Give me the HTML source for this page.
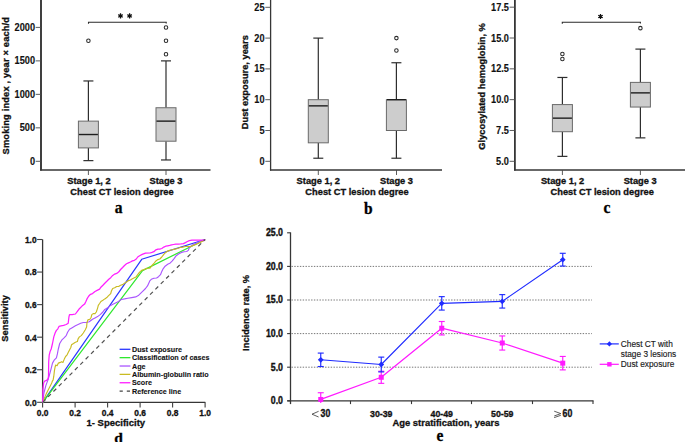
<!DOCTYPE html>
<html><head><meta charset="utf-8"><title>Figure</title>
<style>html,body{margin:0;padding:0;background:#fff;width:685px;height:442px;overflow:hidden}svg{display:block}</style>
</head><body>
<svg width="685" height="442" viewBox="0 0 685 442">
<rect width="685" height="442" fill="#fff"/>
<line x1="41.00" y1="0.00" x2="41.00" y2="170.60" stroke="#363636" stroke-width="1.9" />
<line x1="40.05" y1="169.90" x2="210.50" y2="169.90" stroke="#363636" stroke-width="1.5" />
<line x1="35.70" y1="161.30" x2="41.00" y2="161.30" stroke="#4a4a4a" stroke-width="0.9" />
<text transform="translate(35.00,164.85) scale(1,1.1)" font-size="9.2" text-anchor="end" font-weight="bold" font-family='"Liberation Sans", sans-serif' fill="#111" stroke="#111" stroke-width="0.12" >0</text>
<line x1="35.70" y1="127.83" x2="41.00" y2="127.83" stroke="#4a4a4a" stroke-width="0.9" />
<text transform="translate(35.00,131.38) scale(1,1.1)" font-size="9.2" text-anchor="end" font-weight="bold" font-family='"Liberation Sans", sans-serif' fill="#111" stroke="#111" stroke-width="0.12" >500</text>
<line x1="35.70" y1="94.35" x2="41.00" y2="94.35" stroke="#4a4a4a" stroke-width="0.9" />
<text transform="translate(35.00,97.90) scale(1,1.1)" font-size="9.2" text-anchor="end" font-weight="bold" font-family='"Liberation Sans", sans-serif' fill="#111" stroke="#111" stroke-width="0.12" >1000</text>
<line x1="35.70" y1="60.88" x2="41.00" y2="60.88" stroke="#4a4a4a" stroke-width="0.9" />
<text transform="translate(35.00,64.43) scale(1,1.1)" font-size="9.2" text-anchor="end" font-weight="bold" font-family='"Liberation Sans", sans-serif' fill="#111" stroke="#111" stroke-width="0.12" >1500</text>
<line x1="35.70" y1="27.40" x2="41.00" y2="27.40" stroke="#4a4a4a" stroke-width="0.9" />
<text transform="translate(35.00,30.95) scale(1,1.1)" font-size="9.2" text-anchor="end" font-weight="bold" font-family='"Liberation Sans", sans-serif' fill="#111" stroke="#111" stroke-width="0.12" >2000</text>
<line x1="88.40" y1="170.00" x2="88.40" y2="175.00" stroke="#4a4a4a" stroke-width="0.9" />
<line x1="166.00" y1="170.00" x2="166.00" y2="175.00" stroke="#4a4a4a" stroke-width="0.9" />
<text transform="translate(6.10,85.70) rotate(-90)" x="0" y="0" font-size="9.3" text-anchor="middle" dominant-baseline="central" font-weight="bold" font-family='"Liberation Sans", sans-serif' fill="#111" stroke="#111" stroke-width="0.3" textLength="137.5" lengthAdjust="spacing">Smoking index , year × each/d</text>
<text x="89.00" y="184.40" font-size="9.3" text-anchor="middle" font-weight="bold" font-family='"Liberation Sans", sans-serif' fill="#111" stroke="#111" stroke-width="0.3" >Stage 1, 2</text>
<text x="166.00" y="184.40" font-size="9.3" text-anchor="middle" font-weight="bold" font-family='"Liberation Sans", sans-serif' fill="#111" stroke="#111" stroke-width="0.3" >Stage 3</text>
<text x="122.00" y="195.30" font-size="9.3" text-anchor="middle" font-weight="bold" font-family='"Liberation Sans", sans-serif' fill="#111" stroke="#111" stroke-width="0.3" >Chest CT lesion degree</text>
<text transform="translate(118.70,213.30) scale(1,1.08)" font-size="15.5" text-anchor="middle" font-weight="bold" font-family='"Liberation Serif", serif' fill="#000" stroke="#000" stroke-width="0.3" >a</text>
<line x1="88.40" y1="80.96" x2="88.40" y2="121.13" stroke="#2e2e2e" stroke-width="1.2" />
<line x1="88.40" y1="147.91" x2="88.40" y2="160.63" stroke="#2e2e2e" stroke-width="1.2" />
<line x1="83.40" y1="80.96" x2="93.40" y2="80.96" stroke="#2e2e2e" stroke-width="1.2" />
<line x1="83.40" y1="160.63" x2="93.40" y2="160.63" stroke="#2e2e2e" stroke-width="1.2" />
<rect x="78.40" y="121.13" width="20" height="26.78" fill="#cdcdcd" stroke="#6a6a6a" stroke-width="1"/>
<line x1="78.90" y1="134.52" x2="97.90" y2="134.52" stroke="#1e1e1e" stroke-width="1.4" />
<circle cx="88.40" cy="40.79" r="1.75" fill="#fff" stroke="#2a2a2a" stroke-width="1.05"/>
<line x1="166.00" y1="60.88" x2="166.00" y2="107.74" stroke="#2e2e2e" stroke-width="1.2" />
<line x1="166.00" y1="141.22" x2="166.00" y2="159.96" stroke="#2e2e2e" stroke-width="1.2" />
<line x1="161.00" y1="60.88" x2="171.00" y2="60.88" stroke="#2e2e2e" stroke-width="1.2" />
<line x1="161.00" y1="159.96" x2="171.00" y2="159.96" stroke="#2e2e2e" stroke-width="1.2" />
<rect x="156.00" y="107.74" width="20" height="33.47" fill="#cdcdcd" stroke="#6a6a6a" stroke-width="1"/>
<line x1="156.50" y1="121.13" x2="175.50" y2="121.13" stroke="#1e1e1e" stroke-width="1.4" />
<circle cx="166.00" cy="54.18" r="1.75" fill="#fff" stroke="#2a2a2a" stroke-width="1.05"/>
<circle cx="166.00" cy="40.79" r="1.75" fill="#fff" stroke="#2a2a2a" stroke-width="1.05"/>
<circle cx="166.00" cy="27.40" r="1.75" fill="#fff" stroke="#2a2a2a" stroke-width="1.05"/>
<path d="M88.5 23.8 V22.3 H166.2 V23.6" fill="none" stroke="#2a2a2a" stroke-width="1.1"/>
<path d="M120.50 13.30 L120.50 18.50 M118.25 14.60 L122.75 17.20 M118.25 17.20 L122.75 14.60 " stroke="#111" stroke-width="1.25" fill="none"/>
<circle cx="120.50" cy="15.90" r="1.2" fill="#111"/>
<path d="M129.60 13.30 L129.60 18.50 M127.35 14.60 L131.85 17.20 M127.35 17.20 L131.85 14.60 " stroke="#111" stroke-width="1.25" fill="none"/>
<circle cx="129.60" cy="15.90" r="1.2" fill="#111"/>
<line x1="270.60" y1="0.00" x2="270.60" y2="170.60" stroke="#363636" stroke-width="1.3" />
<line x1="269.95" y1="169.90" x2="442.00" y2="169.90" stroke="#363636" stroke-width="1.5" />
<line x1="265.30" y1="161.30" x2="270.60" y2="161.30" stroke="#4a4a4a" stroke-width="0.9" />
<text transform="translate(264.60,164.85) scale(1,1.1)" font-size="9.2" text-anchor="end" font-weight="bold" font-family='"Liberation Sans", sans-serif' fill="#111" stroke="#111" stroke-width="0.12" >0</text>
<line x1="265.30" y1="130.50" x2="270.60" y2="130.50" stroke="#4a4a4a" stroke-width="0.9" />
<text transform="translate(264.60,134.05) scale(1,1.1)" font-size="9.2" text-anchor="end" font-weight="bold" font-family='"Liberation Sans", sans-serif' fill="#111" stroke="#111" stroke-width="0.12" >5</text>
<line x1="265.30" y1="99.70" x2="270.60" y2="99.70" stroke="#4a4a4a" stroke-width="0.9" />
<text transform="translate(264.60,103.25) scale(1,1.1)" font-size="9.2" text-anchor="end" font-weight="bold" font-family='"Liberation Sans", sans-serif' fill="#111" stroke="#111" stroke-width="0.12" >10</text>
<line x1="265.30" y1="68.90" x2="270.60" y2="68.90" stroke="#4a4a4a" stroke-width="0.9" />
<text transform="translate(264.60,72.45) scale(1,1.1)" font-size="9.2" text-anchor="end" font-weight="bold" font-family='"Liberation Sans", sans-serif' fill="#111" stroke="#111" stroke-width="0.12" >15</text>
<line x1="265.30" y1="38.10" x2="270.60" y2="38.10" stroke="#4a4a4a" stroke-width="0.9" />
<text transform="translate(264.60,41.65) scale(1,1.1)" font-size="9.2" text-anchor="end" font-weight="bold" font-family='"Liberation Sans", sans-serif' fill="#111" stroke="#111" stroke-width="0.12" >20</text>
<line x1="265.30" y1="7.30" x2="270.60" y2="7.30" stroke="#4a4a4a" stroke-width="0.9" />
<text transform="translate(264.60,10.85) scale(1,1.1)" font-size="9.2" text-anchor="end" font-weight="bold" font-family='"Liberation Sans", sans-serif' fill="#111" stroke="#111" stroke-width="0.12" >25</text>
<line x1="318.30" y1="170.00" x2="318.30" y2="175.00" stroke="#4a4a4a" stroke-width="0.9" />
<line x1="396.50" y1="170.00" x2="396.50" y2="175.00" stroke="#4a4a4a" stroke-width="0.9" />
<text transform="translate(244.50,82.20) rotate(-90)" x="0" y="0" font-size="9.3" text-anchor="middle" dominant-baseline="central" font-weight="bold" font-family='"Liberation Sans", sans-serif' fill="#111" stroke="#111" stroke-width="0.3" >Dust exposure, years</text>
<text x="318.30" y="184.40" font-size="9.3" text-anchor="middle" font-weight="bold" font-family='"Liberation Sans", sans-serif' fill="#111" stroke="#111" stroke-width="0.3" >Stage 1, 2</text>
<text x="396.50" y="184.40" font-size="9.3" text-anchor="middle" font-weight="bold" font-family='"Liberation Sans", sans-serif' fill="#111" stroke="#111" stroke-width="0.3" >Stage 3</text>
<text x="357.00" y="195.30" font-size="9.3" text-anchor="middle" font-weight="bold" font-family='"Liberation Sans", sans-serif' fill="#111" stroke="#111" stroke-width="0.3" >Chest CT lesion degree</text>
<text transform="translate(368.20,213.90) scale(1,1.03)" font-size="15.5" text-anchor="middle" font-weight="bold" font-family='"Liberation Serif", serif' fill="#000" stroke="#000" stroke-width="0.3" >b</text>
<line x1="318.30" y1="38.10" x2="318.30" y2="99.70" stroke="#2e2e2e" stroke-width="1.2" />
<line x1="318.30" y1="142.82" x2="318.30" y2="158.22" stroke="#2e2e2e" stroke-width="1.2" />
<line x1="313.30" y1="38.10" x2="323.30" y2="38.10" stroke="#2e2e2e" stroke-width="1.2" />
<line x1="313.30" y1="158.22" x2="323.30" y2="158.22" stroke="#2e2e2e" stroke-width="1.2" />
<rect x="308.30" y="99.70" width="20" height="43.12" fill="#cdcdcd" stroke="#6a6a6a" stroke-width="1"/>
<line x1="308.80" y1="105.86" x2="327.80" y2="105.86" stroke="#1e1e1e" stroke-width="1.4" />
<line x1="396.40" y1="62.74" x2="396.40" y2="99.70" stroke="#2e2e2e" stroke-width="1.2" />
<line x1="396.40" y1="130.50" x2="396.40" y2="158.22" stroke="#2e2e2e" stroke-width="1.2" />
<line x1="391.40" y1="62.74" x2="401.40" y2="62.74" stroke="#2e2e2e" stroke-width="1.2" />
<line x1="391.40" y1="158.22" x2="401.40" y2="158.22" stroke="#2e2e2e" stroke-width="1.2" />
<rect x="386.40" y="99.70" width="20" height="30.80" fill="#cdcdcd" stroke="#6a6a6a" stroke-width="1"/>
<line x1="386.90" y1="99.70" x2="405.90" y2="99.70" stroke="#1e1e1e" stroke-width="1.4" />
<circle cx="396.40" cy="50.42" r="1.75" fill="#fff" stroke="#2a2a2a" stroke-width="1.05"/>
<circle cx="396.40" cy="38.10" r="1.75" fill="#fff" stroke="#2a2a2a" stroke-width="1.05"/>
<line x1="514.90" y1="0.00" x2="514.90" y2="170.60" stroke="#363636" stroke-width="1.8" />
<line x1="514.00" y1="169.90" x2="685.00" y2="169.90" stroke="#363636" stroke-width="1.5" />
<line x1="509.60" y1="161.30" x2="514.90" y2="161.30" stroke="#4a4a4a" stroke-width="0.9" />
<text transform="translate(508.90,164.85) scale(1,1.1)" font-size="9.2" text-anchor="end" font-weight="bold" font-family='"Liberation Sans", sans-serif' fill="#111" stroke="#111" stroke-width="0.12" >5.0</text>
<line x1="509.60" y1="130.48" x2="514.90" y2="130.48" stroke="#4a4a4a" stroke-width="0.9" />
<text transform="translate(508.90,134.03) scale(1,1.1)" font-size="9.2" text-anchor="end" font-weight="bold" font-family='"Liberation Sans", sans-serif' fill="#111" stroke="#111" stroke-width="0.12" >7.5</text>
<line x1="509.60" y1="99.65" x2="514.90" y2="99.65" stroke="#4a4a4a" stroke-width="0.9" />
<text transform="translate(508.90,103.20) scale(1,1.1)" font-size="9.2" text-anchor="end" font-weight="bold" font-family='"Liberation Sans", sans-serif' fill="#111" stroke="#111" stroke-width="0.12" >10.0</text>
<line x1="509.60" y1="68.83" x2="514.90" y2="68.83" stroke="#4a4a4a" stroke-width="0.9" />
<text transform="translate(508.90,72.38) scale(1,1.1)" font-size="9.2" text-anchor="end" font-weight="bold" font-family='"Liberation Sans", sans-serif' fill="#111" stroke="#111" stroke-width="0.12" >12.5</text>
<line x1="509.60" y1="38.00" x2="514.90" y2="38.00" stroke="#4a4a4a" stroke-width="0.9" />
<text transform="translate(508.90,41.55) scale(1,1.1)" font-size="9.2" text-anchor="end" font-weight="bold" font-family='"Liberation Sans", sans-serif' fill="#111" stroke="#111" stroke-width="0.12" >15.0</text>
<line x1="509.60" y1="7.18" x2="514.90" y2="7.18" stroke="#4a4a4a" stroke-width="0.9" />
<text transform="translate(508.90,10.73) scale(1,1.1)" font-size="9.2" text-anchor="end" font-weight="bold" font-family='"Liberation Sans", sans-serif' fill="#111" stroke="#111" stroke-width="0.12" >17.5</text>
<line x1="562.40" y1="170.00" x2="562.40" y2="175.00" stroke="#4a4a4a" stroke-width="0.9" />
<line x1="640.40" y1="170.00" x2="640.40" y2="175.00" stroke="#4a4a4a" stroke-width="0.9" />
<text transform="translate(481.60,86.40) rotate(-90)" x="0" y="0" font-size="9.3" text-anchor="middle" dominant-baseline="central" font-weight="bold" font-family='"Liberation Sans", sans-serif' fill="#111" stroke="#111" stroke-width="0.3" >Glycosylated hemoglobin, %</text>
<text x="562.60" y="184.40" font-size="9.3" text-anchor="middle" font-weight="bold" font-family='"Liberation Sans", sans-serif' fill="#111" stroke="#111" stroke-width="0.3" >Stage 1, 2</text>
<text x="640.20" y="184.40" font-size="9.3" text-anchor="middle" font-weight="bold" font-family='"Liberation Sans", sans-serif' fill="#111" stroke="#111" stroke-width="0.3" >Stage 3</text>
<text x="602.20" y="195.30" font-size="9.3" text-anchor="middle" font-weight="bold" font-family='"Liberation Sans", sans-serif' fill="#111" stroke="#111" stroke-width="0.3" >Chest CT lesion degree</text>
<text transform="translate(607.00,213.30) scale(1,1.08)" font-size="15.5" text-anchor="middle" font-weight="bold" font-family='"Liberation Serif", serif' fill="#000" stroke="#000" stroke-width="0.3" >c</text>
<line x1="562.40" y1="77.46" x2="562.40" y2="104.58" stroke="#2e2e2e" stroke-width="1.2" />
<line x1="562.40" y1="131.71" x2="562.40" y2="156.37" stroke="#2e2e2e" stroke-width="1.2" />
<line x1="557.40" y1="77.46" x2="567.40" y2="77.46" stroke="#2e2e2e" stroke-width="1.2" />
<line x1="557.40" y1="156.37" x2="567.40" y2="156.37" stroke="#2e2e2e" stroke-width="1.2" />
<rect x="552.40" y="104.58" width="20" height="27.13" fill="#cdcdcd" stroke="#6a6a6a" stroke-width="1"/>
<line x1="552.90" y1="118.15" x2="571.90" y2="118.15" stroke="#1e1e1e" stroke-width="1.4" />
<circle cx="562.40" cy="58.96" r="1.75" fill="#fff" stroke="#2a2a2a" stroke-width="1.05"/>
<circle cx="562.40" cy="54.03" r="1.75" fill="#fff" stroke="#2a2a2a" stroke-width="1.05"/>
<line x1="640.40" y1="49.10" x2="640.40" y2="82.39" stroke="#2e2e2e" stroke-width="1.2" />
<line x1="640.40" y1="107.05" x2="640.40" y2="137.87" stroke="#2e2e2e" stroke-width="1.2" />
<line x1="635.40" y1="49.10" x2="645.40" y2="49.10" stroke="#2e2e2e" stroke-width="1.2" />
<line x1="635.40" y1="137.87" x2="645.40" y2="137.87" stroke="#2e2e2e" stroke-width="1.2" />
<rect x="630.40" y="82.39" width="20" height="24.66" fill="#cdcdcd" stroke="#6a6a6a" stroke-width="1"/>
<line x1="630.90" y1="92.87" x2="649.90" y2="92.87" stroke="#1e1e1e" stroke-width="1.4" />
<circle cx="640.40" cy="28.14" r="1.75" fill="#fff" stroke="#2a2a2a" stroke-width="1.05"/>
<path d="M562.3 23.8 V22.3 H640.4 V23.6" fill="none" stroke="#2a2a2a" stroke-width="1.1"/>
<path d="M600.50 13.90 L600.50 19.10 M598.25 15.20 L602.75 17.80 M598.25 17.80 L602.75 15.20 " stroke="#111" stroke-width="1.25" fill="none"/>
<circle cx="600.50" cy="16.50" r="1.2" fill="#111"/>
<line x1="42.60" y1="239.50" x2="42.60" y2="402.90" stroke="#363636" stroke-width="1.3" />
<line x1="42.00" y1="402.30" x2="205.30" y2="402.30" stroke="#363636" stroke-width="1.3" />
<line x1="37.10" y1="402.30" x2="42.60" y2="402.30" stroke="#404040" stroke-width="1.1" />
<text transform="translate(36.60,405.70) scale(1,1.1)" font-size="8.4" text-anchor="end" font-weight="bold" font-family='"Liberation Sans", sans-serif' fill="#111" stroke="#111" stroke-width="0.3" >0.0</text>
<line x1="42.60" y1="402.30" x2="42.60" y2="407.50" stroke="#404040" stroke-width="1.1" />
<text transform="translate(42.60,415.80) scale(1,1.08)" font-size="8.4" text-anchor="middle" font-weight="bold" font-family='"Liberation Sans", sans-serif' fill="#111" stroke="#111" stroke-width="0.3" >0.0</text>
<line x1="37.10" y1="369.74" x2="42.60" y2="369.74" stroke="#404040" stroke-width="1.1" />
<text transform="translate(36.60,373.14) scale(1,1.1)" font-size="8.4" text-anchor="end" font-weight="bold" font-family='"Liberation Sans", sans-serif' fill="#111" stroke="#111" stroke-width="0.3" >0.2</text>
<line x1="75.10" y1="402.30" x2="75.10" y2="407.50" stroke="#404040" stroke-width="1.1" />
<text transform="translate(75.10,415.80) scale(1,1.08)" font-size="8.4" text-anchor="middle" font-weight="bold" font-family='"Liberation Sans", sans-serif' fill="#111" stroke="#111" stroke-width="0.3" >0.2</text>
<line x1="37.10" y1="337.18" x2="42.60" y2="337.18" stroke="#404040" stroke-width="1.1" />
<text transform="translate(36.60,340.58) scale(1,1.1)" font-size="8.4" text-anchor="end" font-weight="bold" font-family='"Liberation Sans", sans-serif' fill="#111" stroke="#111" stroke-width="0.3" >0.4</text>
<line x1="107.60" y1="402.30" x2="107.60" y2="407.50" stroke="#404040" stroke-width="1.1" />
<text transform="translate(107.60,415.80) scale(1,1.08)" font-size="8.4" text-anchor="middle" font-weight="bold" font-family='"Liberation Sans", sans-serif' fill="#111" stroke="#111" stroke-width="0.3" >0.4</text>
<line x1="37.10" y1="304.62" x2="42.60" y2="304.62" stroke="#404040" stroke-width="1.1" />
<text transform="translate(36.60,308.02) scale(1,1.1)" font-size="8.4" text-anchor="end" font-weight="bold" font-family='"Liberation Sans", sans-serif' fill="#111" stroke="#111" stroke-width="0.3" >0.6</text>
<line x1="140.10" y1="402.30" x2="140.10" y2="407.50" stroke="#404040" stroke-width="1.1" />
<text transform="translate(140.10,415.80) scale(1,1.08)" font-size="8.4" text-anchor="middle" font-weight="bold" font-family='"Liberation Sans", sans-serif' fill="#111" stroke="#111" stroke-width="0.3" >0.6</text>
<line x1="37.10" y1="272.06" x2="42.60" y2="272.06" stroke="#404040" stroke-width="1.1" />
<text transform="translate(36.60,275.46) scale(1,1.1)" font-size="8.4" text-anchor="end" font-weight="bold" font-family='"Liberation Sans", sans-serif' fill="#111" stroke="#111" stroke-width="0.3" >0.8</text>
<line x1="172.60" y1="402.30" x2="172.60" y2="407.50" stroke="#404040" stroke-width="1.1" />
<text transform="translate(172.60,415.80) scale(1,1.08)" font-size="8.4" text-anchor="middle" font-weight="bold" font-family='"Liberation Sans", sans-serif' fill="#111" stroke="#111" stroke-width="0.3" >0.8</text>
<line x1="37.10" y1="239.50" x2="42.60" y2="239.50" stroke="#404040" stroke-width="1.1" />
<text transform="translate(36.60,242.90) scale(1,1.1)" font-size="8.4" text-anchor="end" font-weight="bold" font-family='"Liberation Sans", sans-serif' fill="#111" stroke="#111" stroke-width="0.3" >1.0</text>
<line x1="205.10" y1="402.30" x2="205.10" y2="407.50" stroke="#404040" stroke-width="1.1" />
<text transform="translate(205.10,415.80) scale(1,1.08)" font-size="8.4" text-anchor="middle" font-weight="bold" font-family='"Liberation Sans", sans-serif' fill="#111" stroke="#111" stroke-width="0.3" >1.0</text>
<text transform="translate(5.20,318.40) rotate(-90)" x="0" y="0" font-size="9.3" text-anchor="middle" dominant-baseline="central" font-weight="bold" font-family='"Liberation Sans", sans-serif' fill="#111" stroke="#111" stroke-width="0.3" >Sensitivity</text>
<text x="115.80" y="425.90" font-size="9.5" text-anchor="middle" font-weight="bold" font-family='"Liberation Sans", sans-serif' fill="#111" stroke="#111" stroke-width="0.3" >1- Specificity</text>
<text x="118.60" y="442.60" font-size="15.5" text-anchor="middle" font-weight="bold" font-family='"Liberation Serif", serif' fill="#000" stroke="#000" stroke-width="0.3" >d</text>
<path d="M42.70 402.30 L141.70 259.30 L205.10 239.50" fill="none" stroke="#2a36ff" stroke-width="1.2" stroke-linejoin="round" />
<path d="M42.70 402.30 L142.50 270.60 L205.10 239.50" fill="none" stroke="#2ee82e" stroke-width="1.2" stroke-linejoin="round" />
<path d="M42.70 402.30 L43.90 393.20 L45.90 385.40 L47.90 380.10 L49.80 373.60 L51.20 368.30 L52.50 363.10 L54.40 359.80 L56.40 357.80 L57.40 353.90 L58.20 349.50 L59.70 343.50 L61.70 340.20 L64.30 337.60 L66.20 335.60 L67.60 332.30 L69.50 329.30 L72.20 327.70 L75.40 325.80 L78.10 324.50 L80.70 323.20 L83.30 322.50 L86.60 322.50 L89.20 321.80 L92.50 319.20 L95.00 317.90 L97.60 316.60 L100.20 314.60 L102.90 312.00 L104.80 309.40 L108.10 307.40 L110.70 305.40 L113.40 304.10 L116.00 302.80 L118.60 301.50 L121.20 299.50 L124.50 298.90 L127.80 298.20 L131.70 297.60 L135.70 296.90 L138.30 295.60 L140.30 293.60 L142.90 291.10 L145.50 288.50 L147.50 285.90 L150.00 280.60 L151.30 279.30 L153.90 278.20 L156.60 278.00 L158.50 276.70 L160.50 274.70 L161.80 271.40 L163.10 268.80 L165.10 266.20 L167.70 264.20 L170.30 262.90 L172.30 260.90 L174.30 258.30 L176.20 255.70 L178.90 253.70 L181.50 252.40 L184.10 251.70 L186.70 251.50 L188.30 250.40 L189.30 247.80 L190.70 246.50 L193.30 244.50 L195.90 243.20 L199.20 241.90 L202.50 241.00 L203.80 240.60 L205.10 239.50" fill="none" stroke="#aa55ff" stroke-width="1.15" stroke-linejoin="round" />
<path d="M42.70 402.30 L45.90 394.60 L47.90 390.60 L49.20 388.00 L50.50 385.40 L51.80 382.70 L52.50 380.80 L53.10 380.10 L53.80 376.20 L54.40 370.90 L55.10 367.00 L55.70 365.00 L57.10 365.70 L58.40 363.10 L60.30 362.40 L61.70 361.70 L63.00 362.40 L64.30 359.10 L65.60 356.50 L66.90 355.20 L68.20 352.60 L69.50 349.90 L70.80 347.50 L71.50 344.80 L73.50 343.50 L75.40 342.20 L77.40 341.50 L78.10 338.90 L79.40 336.90 L81.30 335.60 L83.30 333.00 L85.30 329.70 L86.60 327.10 L87.00 322.50 L87.90 319.90 L89.90 319.20 L91.20 317.20 L91.80 314.60 L93.20 313.60 L95.00 313.60 L96.30 312.00 L97.60 308.10 L98.30 305.40 L99.60 303.50 L100.90 301.50 L102.90 300.20 L104.80 298.90 L106.80 297.60 L108.10 296.20 L109.40 294.90 L110.70 293.60 L111.40 291.00 L112.70 288.50 L114.70 287.80 L116.70 286.50 L118.60 286.50 L120.60 285.20 L122.60 284.60 L124.50 283.20 L126.50 281.90 L128.50 280.60 L130.40 280.00 L132.40 278.70 L134.40 277.70 L136.30 276.70 L137.70 274.70 L139.60 272.10 L141.60 270.40 L144.20 269.50 L146.80 268.20 L150.00 268.10 L152.00 265.50 L153.90 263.50 L155.90 260.90 L157.90 259.60 L159.80 259.00 L161.80 257.00 L163.80 254.40 L165.70 252.40 L167.70 251.10 L169.70 250.40 L172.30 249.80 L174.90 249.10 L177.50 248.50 L180.20 247.50 L182.80 247.10 L185.40 246.50 L190.70 246.50 L193.30 245.40 L195.90 244.50 L198.50 243.20 L201.10 241.90 L203.80 240.60 L205.10 239.50" fill="none" stroke="#c9bb22" stroke-width="1.15" stroke-linejoin="round" />
<path d="M42.70 402.30 L42.90 389.30 L43.70 382.70 L44.60 381.20 L46.60 380.40 L48.10 378.80 L48.50 376.20 L48.70 361.70 L49.20 355.20 L50.20 351.20 L51.20 349.00 L52.50 343.50 L53.80 336.90 L55.10 333.00 L56.40 330.40 L57.70 329.10 L59.00 326.40 L61.00 325.80 L63.60 325.40 L66.20 324.50 L68.20 323.20 L68.90 317.20 L69.50 314.60 L72.20 314.60 L75.40 314.00 L77.40 311.30 L79.40 308.70 L82.00 306.10 L84.60 304.10 L85.90 301.50 L87.00 298.90 L88.60 296.20 L90.50 294.30 L92.50 293.60 L95.00 291.50 L97.60 290.10 L99.60 289.10 L100.90 287.20 L102.90 285.20 L104.80 283.20 L106.80 281.30 L108.80 279.30 L110.70 277.70 L112.70 275.40 L114.70 274.10 L116.70 273.40 L118.60 272.10 L120.60 269.50 L122.60 267.50 L124.50 265.50 L126.50 263.80 L128.50 262.90 L130.40 262.00 L132.40 260.90 L134.40 260.30 L136.30 259.00 L137.70 257.00 L139.60 255.70 L142.20 254.40 L145.50 253.10 L150.00 253.00 L152.00 252.40 L153.90 251.70 L155.90 249.80 L157.90 249.10 L159.80 249.10 L161.80 248.50 L163.80 247.10 L165.70 246.20 L167.70 245.80 L169.70 245.40 L171.60 244.90 L173.60 244.50 L175.60 244.10 L178.20 244.10 L180.80 243.90 L183.40 243.60 L185.40 242.60 L187.40 241.50 L189.30 240.60 L192.00 240.20 L197.20 240.20 L203.80 240.20 L205.10 239.50" fill="none" stroke="#ff1eff" stroke-width="1.25" stroke-linejoin="round" />
<path d="M42.70 402.30 L205.10 239.50" fill="none" stroke="#505050" stroke-width="1.2" stroke-linejoin="round" stroke-dasharray="4 3.6"/>
<line x1="119.60" y1="349.30" x2="130.40" y2="349.30" stroke="#2a36ff" stroke-width="1.3" />
<text x="132.00" y="351.90" font-size="7.2" text-anchor="start" font-weight="bold" font-family='"Liberation Sans", sans-serif' fill="#111" stroke="#111" stroke-width="0.1" >Dust exposure</text>
<line x1="119.60" y1="357.66" x2="130.40" y2="357.66" stroke="#2ee82e" stroke-width="1.3" />
<text x="132.00" y="360.26" font-size="7.2" text-anchor="start" font-weight="bold" font-family='"Liberation Sans", sans-serif' fill="#111" stroke="#111" stroke-width="0.1" >Classification of cases</text>
<line x1="119.60" y1="366.02" x2="130.40" y2="366.02" stroke="#aa55ff" stroke-width="1.3" />
<text x="132.00" y="368.62" font-size="7.2" text-anchor="start" font-weight="bold" font-family='"Liberation Sans", sans-serif' fill="#111" stroke="#111" stroke-width="0.1" >Age</text>
<line x1="119.60" y1="374.38" x2="130.40" y2="374.38" stroke="#c9bb22" stroke-width="1.3" />
<text x="132.00" y="376.98" font-size="7.2" text-anchor="start" font-weight="bold" font-family='"Liberation Sans", sans-serif' fill="#111" stroke="#111" stroke-width="0.1" >Albumin-globulin ratio</text>
<line x1="119.60" y1="382.74" x2="130.40" y2="382.74" stroke="#ff1eff" stroke-width="1.3" />
<text x="132.00" y="385.34" font-size="7.2" text-anchor="start" font-weight="bold" font-family='"Liberation Sans", sans-serif' fill="#111" stroke="#111" stroke-width="0.1" >Score</text>
<line x1="119.60" y1="391.10" x2="130.40" y2="391.10" stroke="#444" stroke-width="1.3" stroke-dasharray="3.2 4"/>
<text x="132.00" y="393.70" font-size="7.2" text-anchor="start" font-weight="bold" font-family='"Liberation Sans", sans-serif' fill="#111" stroke="#111" stroke-width="0.1" >Reference line</text>
<line x1="291.50" y1="367.20" x2="591.90" y2="367.20" stroke="#777" stroke-width="1" stroke-dasharray="1.4 1.4"/>
<line x1="291.50" y1="333.60" x2="591.90" y2="333.60" stroke="#777" stroke-width="1" stroke-dasharray="1.4 1.4"/>
<line x1="291.50" y1="300.00" x2="591.90" y2="300.00" stroke="#777" stroke-width="1" stroke-dasharray="1.4 1.4"/>
<line x1="291.50" y1="266.40" x2="591.90" y2="266.40" stroke="#777" stroke-width="1" stroke-dasharray="1.4 1.4"/>
<line x1="290.50" y1="232.40" x2="290.50" y2="404.10" stroke="#363636" stroke-width="1.3" />
<line x1="287.30" y1="400.80" x2="593.50" y2="400.80" stroke="#363636" stroke-width="1.3" />
<line x1="287.10" y1="400.80" x2="290.50" y2="400.80" stroke="#363636" stroke-width="1.1" />
<text transform="translate(283.00,404.10) scale(1,1.16)" font-size="8.8" text-anchor="end" font-weight="bold" font-family='"Liberation Sans", sans-serif' fill="#111" stroke="#111" stroke-width="0.3" >0.0</text>
<line x1="287.10" y1="367.20" x2="290.50" y2="367.20" stroke="#363636" stroke-width="1.1" />
<text transform="translate(283.00,370.50) scale(1,1.16)" font-size="8.8" text-anchor="end" font-weight="bold" font-family='"Liberation Sans", sans-serif' fill="#111" stroke="#111" stroke-width="0.3" >5.0</text>
<line x1="287.10" y1="333.60" x2="290.50" y2="333.60" stroke="#363636" stroke-width="1.1" />
<text transform="translate(283.00,336.90) scale(1,1.16)" font-size="8.8" text-anchor="end" font-weight="bold" font-family='"Liberation Sans", sans-serif' fill="#111" stroke="#111" stroke-width="0.3" >10.0</text>
<line x1="287.10" y1="300.00" x2="290.50" y2="300.00" stroke="#363636" stroke-width="1.1" />
<text transform="translate(283.00,303.30) scale(1,1.16)" font-size="8.8" text-anchor="end" font-weight="bold" font-family='"Liberation Sans", sans-serif' fill="#111" stroke="#111" stroke-width="0.3" >15.0</text>
<line x1="287.10" y1="266.40" x2="290.50" y2="266.40" stroke="#363636" stroke-width="1.1" />
<text transform="translate(283.00,269.70) scale(1,1.16)" font-size="8.8" text-anchor="end" font-weight="bold" font-family='"Liberation Sans", sans-serif' fill="#111" stroke="#111" stroke-width="0.3" >20.0</text>
<line x1="287.10" y1="232.80" x2="290.50" y2="232.80" stroke="#363636" stroke-width="1.1" />
<text transform="translate(283.00,236.10) scale(1,1.16)" font-size="8.8" text-anchor="end" font-weight="bold" font-family='"Liberation Sans", sans-serif' fill="#111" stroke="#111" stroke-width="0.3" >25.0</text>
<line x1="350.50" y1="400.80" x2="350.50" y2="404.10" stroke="#363636" stroke-width="1.1" />
<line x1="411.50" y1="400.80" x2="411.50" y2="404.10" stroke="#363636" stroke-width="1.1" />
<line x1="471.50" y1="400.80" x2="471.50" y2="404.10" stroke="#363636" stroke-width="1.1" />
<line x1="532.50" y1="400.80" x2="532.50" y2="404.10" stroke="#363636" stroke-width="1.1" />
<line x1="593.00" y1="400.80" x2="593.00" y2="404.10" stroke="#363636" stroke-width="1.1" />
<text transform="translate(330.30,417.30) scale(1,1.14)" font-size="8.8" text-anchor="end" font-weight="bold" font-family='"Liberation Sans", sans-serif' fill="#111" stroke="#111" stroke-width="0.3" >30</text>
<path d="M318.6 411.3 L312 414.2 L318.6 417" fill="none" stroke="#333" stroke-width="0.8"/>
<text transform="translate(381.25,417.00) scale(1,1.12)" font-size="8.8" text-anchor="middle" font-weight="bold" font-family='"Liberation Sans", sans-serif' fill="#111" stroke="#111" stroke-width="0.3" >30-39</text>
<text transform="translate(441.75,417.00) scale(1,1.12)" font-size="8.8" text-anchor="middle" font-weight="bold" font-family='"Liberation Sans", sans-serif' fill="#111" stroke="#111" stroke-width="0.3" >40-49</text>
<text transform="translate(502.25,417.00) scale(1,1.12)" font-size="8.8" text-anchor="middle" font-weight="bold" font-family='"Liberation Sans", sans-serif' fill="#111" stroke="#111" stroke-width="0.3" >50-59</text>
<text transform="translate(572.30,417.30) scale(1,1.14)" font-size="8.8" text-anchor="end" font-weight="bold" font-family='"Liberation Sans", sans-serif' fill="#111" stroke="#111" stroke-width="0.3" >60</text>
<path d="M554.2 411.2 L560.8 413.6 L554.2 416 M554.2 417.6 L560.8 415.3" fill="none" stroke="#333" stroke-width="0.8"/>
<text transform="translate(246.30,312.90) rotate(-90)" x="0" y="0" font-size="9.3" text-anchor="middle" dominant-baseline="central" font-weight="bold" font-family='"Liberation Sans", sans-serif' fill="#111" stroke="#111" stroke-width="0.3" >Incidence rate, %</text>
<text x="445.90" y="425.90" font-size="9.45" text-anchor="middle" font-weight="bold" font-family='"Liberation Sans", sans-serif' fill="#111" stroke="#111" stroke-width="0.3" >Age stratification, years</text>
<text transform="translate(440.00,441.20) scale(1,1.05)" font-size="15.5" text-anchor="middle" font-weight="bold" font-family='"Liberation Serif", serif' fill="#000" stroke="#000" stroke-width="0.3" >e</text>
<path d="M320.75 399.46 L381.25 377.28 L441.75 328.22 L502.25 343.01 L562.75 363.17" fill="none" stroke="#ff1aff" stroke-width="1.25" stroke-linejoin="round" />
<line x1="320.75" y1="392.74" x2="320.75" y2="403.00" stroke="#ff1aff" stroke-width="1.15" />
<line x1="317.75" y1="392.74" x2="323.75" y2="392.74" stroke="#ff1aff" stroke-width="1.15" />
<rect x="318.25" y="396.96" width="5" height="5" fill="#ff1aff"/>
<line x1="381.25" y1="371.23" x2="381.25" y2="383.33" stroke="#ff1aff" stroke-width="1.15" />
<line x1="378.25" y1="371.23" x2="384.25" y2="371.23" stroke="#ff1aff" stroke-width="1.15" />
<line x1="378.25" y1="383.33" x2="384.25" y2="383.33" stroke="#ff1aff" stroke-width="1.15" />
<rect x="378.75" y="374.78" width="5" height="5" fill="#ff1aff"/>
<line x1="441.75" y1="321.50" x2="441.75" y2="334.94" stroke="#ff1aff" stroke-width="1.15" />
<line x1="438.75" y1="321.50" x2="444.75" y2="321.50" stroke="#ff1aff" stroke-width="1.15" />
<line x1="438.75" y1="334.94" x2="444.75" y2="334.94" stroke="#ff1aff" stroke-width="1.15" />
<rect x="439.25" y="325.72" width="5" height="5" fill="#ff1aff"/>
<line x1="502.25" y1="335.95" x2="502.25" y2="350.06" stroke="#ff1aff" stroke-width="1.15" />
<line x1="499.25" y1="335.95" x2="505.25" y2="335.95" stroke="#ff1aff" stroke-width="1.15" />
<line x1="499.25" y1="350.06" x2="505.25" y2="350.06" stroke="#ff1aff" stroke-width="1.15" />
<rect x="499.75" y="340.51" width="5" height="5" fill="#ff1aff"/>
<line x1="562.75" y1="356.45" x2="562.75" y2="369.89" stroke="#ff1aff" stroke-width="1.15" />
<line x1="559.75" y1="356.45" x2="565.75" y2="356.45" stroke="#ff1aff" stroke-width="1.15" />
<line x1="559.75" y1="369.89" x2="565.75" y2="369.89" stroke="#ff1aff" stroke-width="1.15" />
<rect x="560.25" y="360.67" width="5" height="5" fill="#ff1aff"/>
<path d="M320.75 359.81 L381.25 364.51 L441.75 303.36 L502.25 301.34 L562.75 259.68" fill="none" stroke="#1f2bff" stroke-width="1.1" stroke-linejoin="round" />
<line x1="320.75" y1="353.09" x2="320.75" y2="366.53" stroke="#1f2bff" stroke-width="1.15" />
<line x1="317.75" y1="353.09" x2="323.75" y2="353.09" stroke="#1f2bff" stroke-width="1.15" />
<line x1="317.75" y1="366.53" x2="323.75" y2="366.53" stroke="#1f2bff" stroke-width="1.15" />
<path d="M320.75 356.91 L323.65 359.81 L320.75 362.71 L317.85 359.81 Z" fill="#1f2bff"/>
<line x1="381.25" y1="357.12" x2="381.25" y2="371.90" stroke="#1f2bff" stroke-width="1.15" />
<line x1="378.25" y1="357.12" x2="384.25" y2="357.12" stroke="#1f2bff" stroke-width="1.15" />
<line x1="378.25" y1="371.90" x2="384.25" y2="371.90" stroke="#1f2bff" stroke-width="1.15" />
<path d="M381.25 361.61 L384.15 364.51 L381.25 367.41 L378.35 364.51 Z" fill="#1f2bff"/>
<line x1="441.75" y1="296.64" x2="441.75" y2="310.08" stroke="#1f2bff" stroke-width="1.15" />
<line x1="438.75" y1="296.64" x2="444.75" y2="296.64" stroke="#1f2bff" stroke-width="1.15" />
<line x1="438.75" y1="310.08" x2="444.75" y2="310.08" stroke="#1f2bff" stroke-width="1.15" />
<path d="M441.75 300.46 L444.65 303.36 L441.75 306.26 L438.85 303.36 Z" fill="#1f2bff"/>
<line x1="502.25" y1="294.62" x2="502.25" y2="308.06" stroke="#1f2bff" stroke-width="1.15" />
<line x1="499.25" y1="294.62" x2="505.25" y2="294.62" stroke="#1f2bff" stroke-width="1.15" />
<line x1="499.25" y1="308.06" x2="505.25" y2="308.06" stroke="#1f2bff" stroke-width="1.15" />
<path d="M502.25 298.44 L505.15 301.34 L502.25 304.24 L499.35 301.34 Z" fill="#1f2bff"/>
<line x1="562.75" y1="253.30" x2="562.75" y2="266.06" stroke="#1f2bff" stroke-width="1.15" />
<line x1="559.75" y1="253.30" x2="565.75" y2="253.30" stroke="#1f2bff" stroke-width="1.15" />
<line x1="559.75" y1="266.06" x2="565.75" y2="266.06" stroke="#1f2bff" stroke-width="1.15" />
<path d="M562.75 256.78 L565.65 259.68 L562.75 262.58 L559.85 259.68 Z" fill="#1f2bff"/>
<line x1="599.70" y1="343.90" x2="618.80" y2="343.90" stroke="#1f2bff" stroke-width="1.2" />
<path d="M609.4 341.3 L612 343.9 L609.4 346.5 L606.8 343.9 Z" fill="#1f2bff"/>
<text x="620.80" y="346.70" font-size="8.3" text-anchor="start" font-weight="normal" font-family='"Liberation Sans", sans-serif' fill="#1a1a1a" stroke="#1a1a1a" stroke-width="0.15" >Chest CT with</text>
<text x="620.80" y="356.50" font-size="8.3" text-anchor="start" font-weight="normal" font-family='"Liberation Sans", sans-serif' fill="#1a1a1a" stroke="#1a1a1a" stroke-width="0.15" >stage 3 lesions</text>
<line x1="599.70" y1="364.30" x2="618.80" y2="364.30" stroke="#ff1aff" stroke-width="1.2" />
<rect x="607.2" y="362.1" width="4.4" height="4.4" fill="#ff1aff"/>
<text x="620.80" y="367.20" font-size="8.3" text-anchor="start" font-weight="normal" font-family='"Liberation Sans", sans-serif' fill="#1a1a1a" stroke="#1a1a1a" stroke-width="0.15" >Dust exposure</text>
</svg>
</body></html>
